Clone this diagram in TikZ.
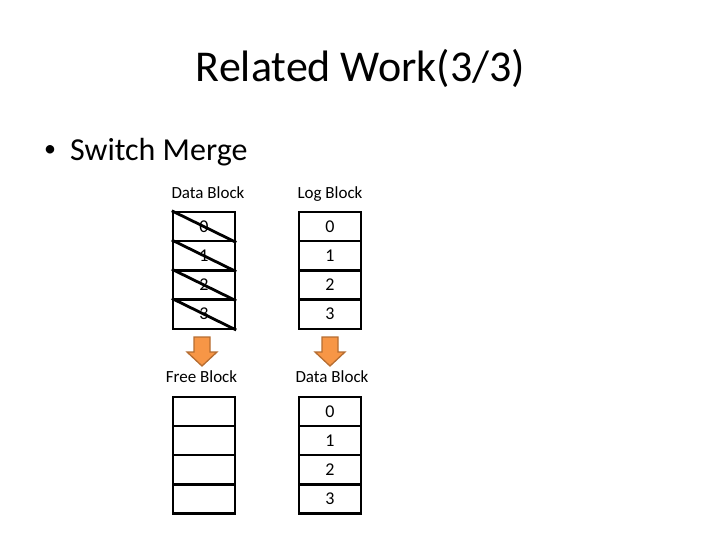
\documentclass[tikz,border=0pt]{standalone}
\usepackage{fontspec}
\setmainfont{Carlito}
\definecolor{arrfill}{RGB}{247,150,70}
\definecolor{arrdraw}{RGB}{182,109,49}
\begin{document}
\begin{tikzpicture}[x=1pt,y=-1pt,
  cellbox/.style={draw=black,line width=2.4pt,minimum width=62pt,minimum height=29.2pt,inner sep=0pt,font=\fontsize{18}{18}\selectfont},
  lbl/.style={font=\fontsize{17}{17}\selectfont,anchor=base},
  downarr/.style={fill=arrfill,draw=arrdraw,line width=1.3pt,line join=miter}]
\useasboundingbox (0,0) rectangle (720,540);
\node[anchor=base,font=\fontsize{44}{44}\selectfont] (title) at (360.5,82) {Related Work(3/3)};
\node[anchor=base west,inner sep=0pt,font=\fontsize{24}{24}\selectfont] (bdot) at (44,157) {•};
\node[anchor=base west,inner sep=0pt,font=\fontsize{32}{32}\selectfont] (bul) at (70,161) {Switch Merge};
% labels
\node[lbl] (ldb) at (208,199) {Data Block};
\node[lbl] (llb) at (330,199) {Log Block};
\node[lbl] (lfb) at (201.5,382) {Free Block};
\node[lbl] (ldb2) at (332,382) {Data Block};
% columns
\foreach \i in {0,1,2,3}{
  \node[cellbox] (d\i) at (204,{226.6+29.2*\i}) {\raisebox{-2pt}{\i}};
  \node[cellbox] (l\i) at (330,{226.6+29.2*\i}) {\raisebox{-2pt}{\i}};
  \node[cellbox] (f\i) at (204,{411.4+29.2*\i}) {};
  \node[cellbox] (n\i) at (330,{411.4+29.2*\i}) {\raisebox{-2pt}{\i}};
  \draw[line width=2.8pt] (d\i.north west) -- (d\i.south east);
}
% arrows
\foreach \cx/\nm in {202/a1,330/a2}{
  \draw[downarr] (\cx-8,337) -- (\cx+8,337) -- (\cx+8,352) -- (\cx+15,352) -- (\cx,366) -- (\cx-15,352) -- (\cx-8,352) -- cycle;
}
\end{tikzpicture}
\end{document}
